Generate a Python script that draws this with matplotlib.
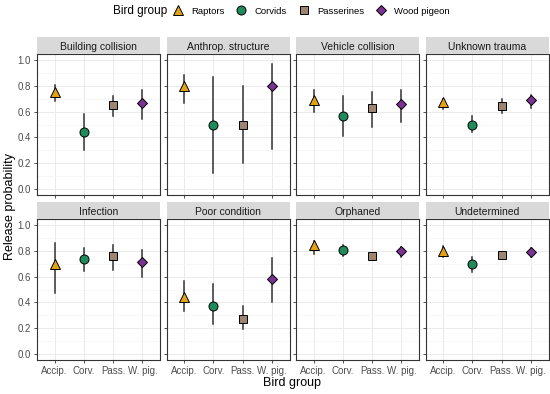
import matplotlib
matplotlib.use("Agg")
import matplotlib.pyplot as plt
from matplotlib.lines import Line2D
import numpy as np

plt.rcParams['font.family'] = ['Liberation Sans', 'DejaVu Sans']

groups = ["Raptors", "Corvids", "Passerines", "Wood pigeon"]
ticklabels = ["Accip.", "Corv.", "Pass.", "W. pig."]
causes = ["Building collision", "Anthrop. structure", "Vehicle collision", "Unknown trauma",
          "Infection", "Poor condition", "Orphaned", "Undetermined"]

# estimate, lower, upper per cause (rows) and bird group (columns)
est = [[0.75, 0.44, 0.65, 0.67],
       [0.80, 0.50, 0.50, 0.80],
       [0.69, 0.57, 0.625, 0.66],
       [0.675, 0.50, 0.645, 0.69],
       [0.70, 0.74, 0.76, 0.715],
       [0.44, 0.37, 0.27, 0.585],
       [0.85, 0.81, 0.76, 0.80],
       [0.80, 0.70, 0.77, 0.79]]
lo = [[0.68, 0.30, 0.57, 0.54],
      [0.67, 0.12, 0.20, 0.31],
      [0.60, 0.41, 0.48, 0.52],
      [0.62, 0.44, 0.59, 0.63],
      [0.47, 0.645, 0.65, 0.60],
      [0.33, 0.23, 0.19, 0.40],
      [0.78, 0.76, 0.73, 0.75],
      [0.75, 0.635, 0.74, 0.755]]
hi = [[0.81, 0.58, 0.72, 0.77],
      [0.89, 0.87, 0.80, 0.97],
      [0.77, 0.72, 0.75, 0.77],
      [0.70, 0.57, 0.70, 0.73],
      [0.86, 0.82, 0.845, 0.81],
      [0.57, 0.54, 0.37, 0.745],
      [0.88, 0.85, 0.78, 0.83],
      [0.84, 0.755, 0.79, 0.82]]

colors = ["#E0A314", "#1F8A5B", "#9C8571", "#7B3294"]
markers = ["^", "o", "s", "D"]
msizes = [7.5, 6.5, 5.5, 5.5]

W, H = 550, 394
fig = plt.figure(figsize=(W / 100, H / 100), dpi=100)

lefts = [37, 166.5, 296, 425.5]
pw = 123
tops = [54, 219]
ph = 141
sh = 16.5

x = np.arange(1, 5)
for i, cause in enumerate(causes):
    r, c = divmod(i, 4)
    l, t = lefts[c], tops[r]
    ax = fig.add_axes([l / W, 1 - (t + ph) / H, pw / W, ph / H])
    ax.set_xlim(0.4, 4.6)
    ax.set_ylim(-0.05, 1.05)
    ax.set_yticks([0, 0.2, 0.4, 0.6, 0.8, 1.0])
    ax.set_yticks([0.1, 0.3, 0.5, 0.7, 0.9], minor=True)
    ax.set_xticks(x)
    ax.grid(True, which="major", color="#EBEBEB", lw=0.7)
    ax.grid(True, which="minor", axis="y", color="#F4F4F4", lw=0.5)
    ax.set_axisbelow(True)
    for sp in ax.spines.values():
        sp.set_color("#333333")
        sp.set_linewidth(0.8)
    ax.tick_params(which="major", length=2.5, width=0.6, color="#333333",
                   labelsize=7, labelcolor="#4D4D4D", pad=2)
    ax.tick_params(which="minor", length=0)
    if c == 0:
        ax.set_yticklabels(["0.0", "0.2", "0.4", "0.6", "0.8", "1.0"])
    else:
        ax.set_yticklabels([])
    if r == 1:
        ax.set_xticklabels(ticklabels)
    else:
        ax.set_xticklabels([])
    for g in range(4):
        ax.plot([x[g], x[g]], [lo[i][g], hi[i][g]], color="#333333", lw=1.1, zorder=2)
        ax.plot(x[g], est[i][g], marker=markers[g], ms=msizes[g], color=colors[g],
                mec="black", mew=0.7, zorder=3, ls="none")
    # strip
    sax = fig.add_axes([l / W, 1 - t / H, pw / W, sh / H])
    sax.set_facecolor("#D9D9D9")
    sax.set_xticks([])
    sax.set_yticks([])
    for sp in sax.spines.values():
        sp.set_visible(False)
    sax.text(0.5, 0.45, cause, ha="center", va="center", fontsize=7.5, color="#1A1A1A",
             transform=sax.transAxes)

fig.text(10 / W, 1 - 207 / H, "Release probability", rotation=90, ha="center", va="center",
         fontsize=9)
fig.text(292 / W, 1 - 383 / H, "Bird group", ha="center", va="center", fontsize=9)

fig.text(140 / W, 1 - 11 / H, "Bird group", ha="center", va="center", fontsize=8.5)
handles = [Line2D([], [], marker=markers[g], ms=msizes[g], color=colors[g], mec="black",
                  mew=0.7, ls="none") for g in range(4)]
fig.legend(handles, groups, loc="center left", bbox_to_anchor=(173 / W, 1 - 11 / H), ncol=4,
           frameon=False, fontsize=6.8, handletextpad=0.9, columnspacing=1.3,
           handlelength=1.0, borderpad=0, borderaxespad=0)

fig.savefig("out.png", dpi=100)
